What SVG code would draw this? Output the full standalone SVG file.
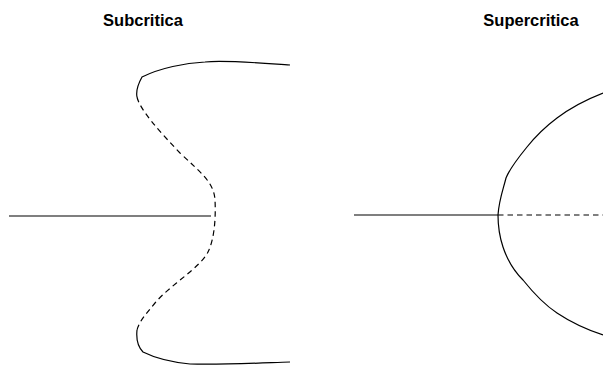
<svg xmlns="http://www.w3.org/2000/svg" width="603" height="365" viewBox="0 0 603 365">
<style>
.t{font-family:"Liberation Sans",Arial,sans-serif;font-weight:bold;font-size:16.5px;fill:#000;text-anchor:middle}
.s{fill:none;stroke:#000;stroke-width:1.2}
.d{fill:none;stroke:#000;stroke-width:1.2;stroke-dasharray:5.5,4}
</style>
<rect width="603" height="365" fill="#fff"/>
<g id="subcritica">
<text class="t" x="143" y="26">Subcritica</text>
<path class="s" d="M9,216 L211,216"/>
<path class="s" d="M290,65 C260,63 225,60 205,62 C185,63 160,68 142,77 C137,86 136,92 137,97"/>
<path class="d" d="M137,97 C140,110 160,132 180,153 C200,172 214,182 215,200 C216,220 214,240 208,252 C200,268 170,285 155,303 C145,315 139,322 137,330"/>
<path class="s" d="M137,330 C136,340 139,348 143,352 C155,358 170,362 190,364 C220,365 260,363 290,362"/>
</g>
<g id="supercritica">
<text class="t" x="531" y="26">Supercritica</text>
<path class="s" d="M354,215 L498,215"/>
<path class="d" d="M498,215 L603,215"/>
<path class="s" d="M603,93 C585,100 570,108 557,118 C545,127 535,137 527,147 C518,158 510,168 506,178 C503,190 499,200 498,215"/>
<path class="s" d="M498,215 C498,228 500,238 503,247 C508,262 515,272 523,280 C535,295 545,305 557,313 C572,323 588,330 603,335"/>
</g>
</svg>
